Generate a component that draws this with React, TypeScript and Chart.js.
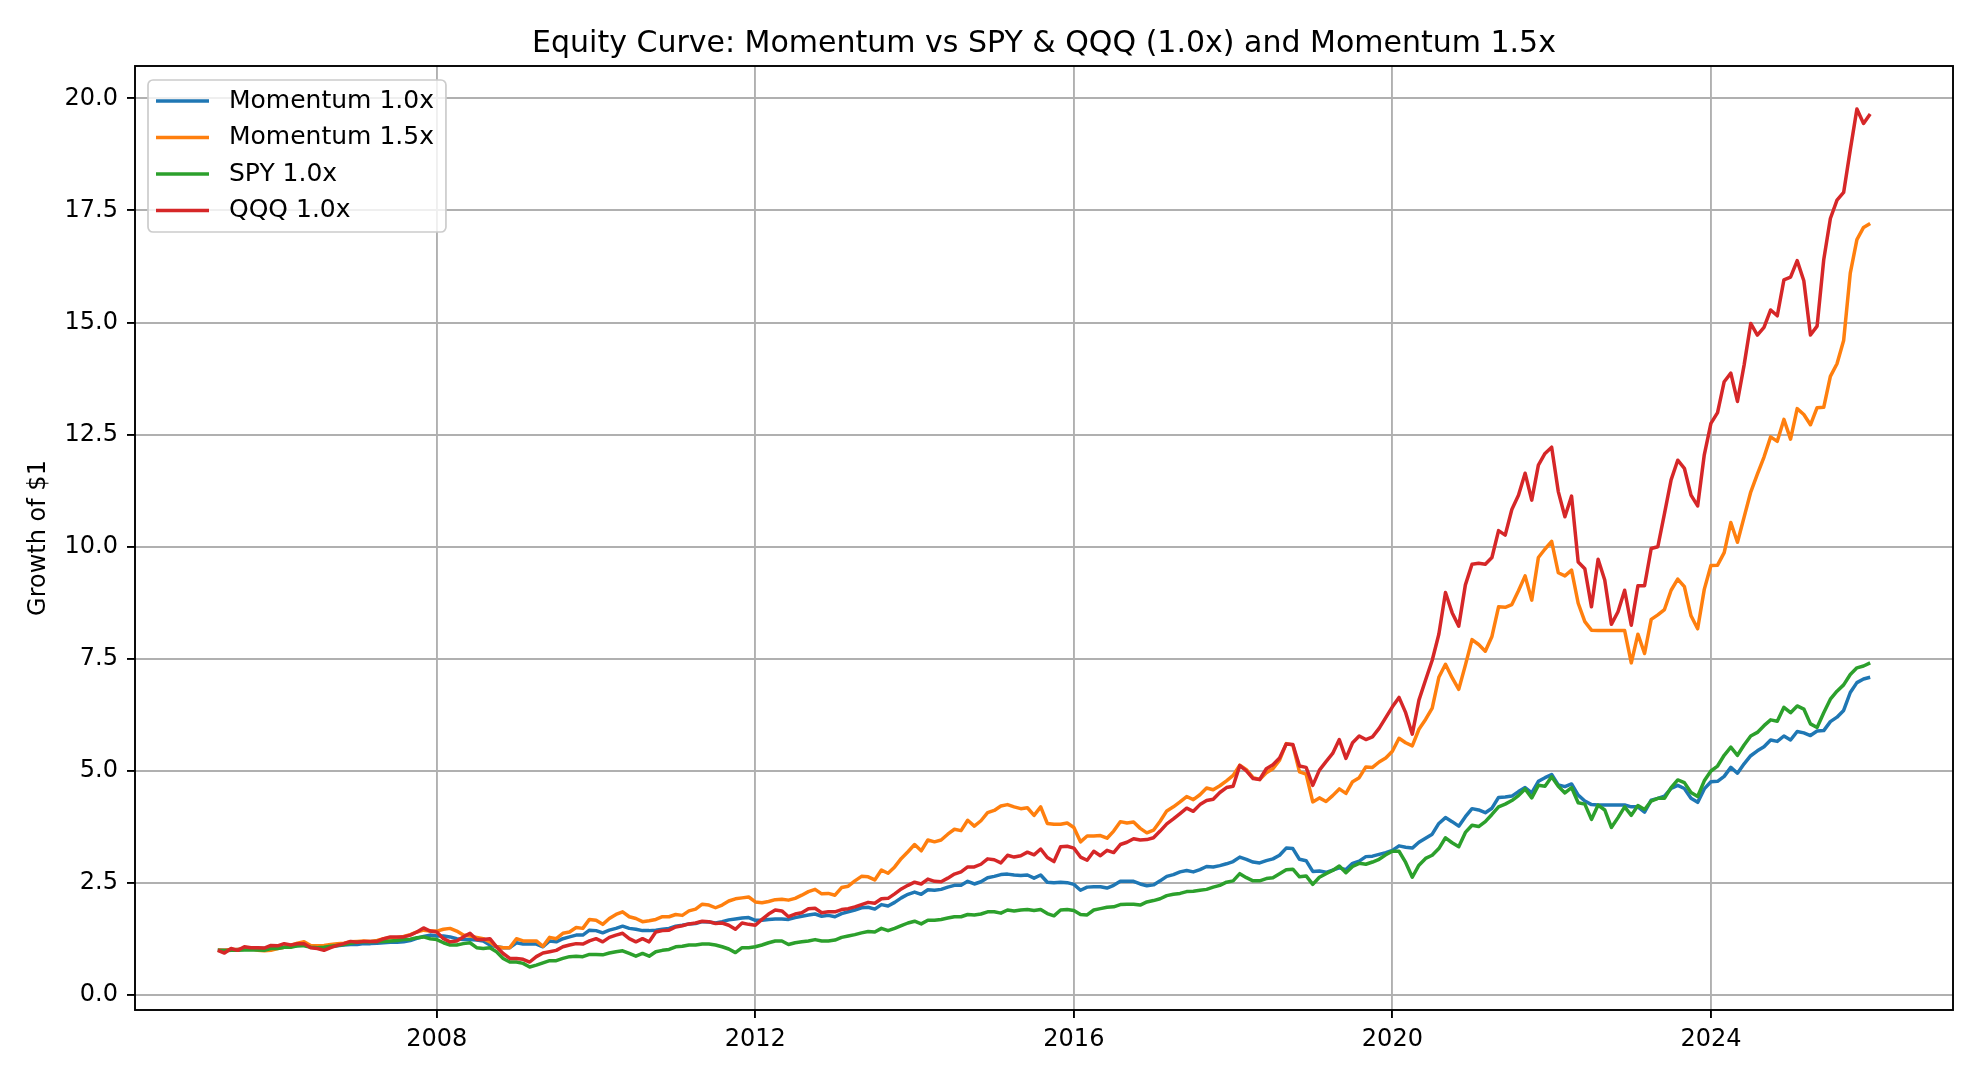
import React, { useEffect, useRef } from 'react';
import { Chart, registerables } from 'chart.js';

Chart.register(...registerables);

const TITLE = 'Equity Curve: Momentum vs SPY & QQQ (1.0x) and Momentum 1.5x';
const Y_LABEL = 'Growth of $1';
const START_YEAR = 2005;
const START_MONTH = 3; // first month-end observation: March 2005
const X_TICKS = [2008, 2012, 2016, 2020, 2024];
const Y_TICKS = [0, 2.5, 5, 7.5, 10, 12.5, 15, 17.5, 20];
const SERIES_NAMES = ['Momentum 1.0x', 'Momentum 1.5x', 'SPY 1.0x', 'QQQ 1.0x'];
const SERIES_COLORS = ['#1f77b4', '#ff7f0e', '#2ca02c', '#d62728'];

const momentum10 = [
  1.00, 1.01, 1.01, 1.02, 1.03, 1.04, 1.04, 1.04, 1.05, 1.06,
  1.07, 1.09, 1.10, 1.12, 1.09, 1.07, 1.08, 1.09, 1.10, 1.12,
  1.13, 1.13, 1.15, 1.15, 1.16, 1.17, 1.18, 1.18, 1.19, 1.22,
  1.27, 1.31,
  1.34, 1.32, 1.32, 1.30, 1.26, 1.24, 1.24, 1.23, 1.21, 1.12,
  1.08, 1.06, 1.06, 1.17, 1.14, 1.14, 1.14, 1.08, 1.21, 1.19,
  1.26, 1.30, 1.34, 1.34, 1.45, 1.44, 1.39, 1.45, 1.49, 1.54,
  1.49, 1.47, 1.44, 1.44, 1.45, 1.47, 1.49, 1.54,
  1.56, 1.59, 1.60, 1.64, 1.63, 1.61, 1.64, 1.68, 1.70, 1.72,
  1.73, 1.67, 1.67, 1.69, 1.70, 1.70, 1.69, 1.73, 1.76, 1.79,
  1.81, 1.76, 1.78, 1.75, 1.82, 1.86, 1.90, 1.95, 1.96, 1.92,
  2.02, 1.99, 2.07, 2.17, 2.25, 2.30, 2.25, 2.35,
  2.34, 2.36, 2.41, 2.45, 2.45, 2.54, 2.48, 2.53, 2.62, 2.65,
  2.69, 2.70, 2.68, 2.67, 2.68, 2.61, 2.68, 2.52, 2.51, 2.52,
  2.51, 2.47, 2.34, 2.41, 2.42, 2.42, 2.39, 2.45, 2.54, 2.54,
  2.54, 2.48, 2.44, 2.46, 2.55, 2.65, 2.69, 2.75,
  2.78, 2.75, 2.80, 2.87, 2.86, 2.89, 2.93, 2.98, 3.08, 3.03,
  2.97, 2.95, 3.00, 3.04, 3.12, 3.28, 3.27, 3.03, 3.00, 2.76,
  2.77, 2.74, 2.79, 2.84, 2.80, 2.94, 2.99, 3.09, 3.10, 3.14,
  3.18, 3.23, 3.33, 3.30, 3.28, 3.41,
  3.50, 3.59, 3.83, 3.96, 3.87, 3.77, 3.98, 4.16, 4.13, 4.07,
  4.17, 4.41, 4.42, 4.44, 4.54, 4.63, 4.51, 4.77, 4.85, 4.92,
  4.69, 4.65, 4.71, 4.46, 4.33, 4.25, 4.24, 4.24, 4.24, 4.24,
  4.24, 4.20, 4.20, 4.08, 4.35,
  4.39, 4.44, 4.61, 4.68, 4.61, 4.39, 4.30, 4.60, 4.76, 4.77,
  4.88, 5.08, 4.95, 5.16, 5.34, 5.45, 5.54, 5.69, 5.66, 5.78,
  5.69, 5.88, 5.85, 5.79, 5.89, 5.90, 6.10, 6.20, 6.35, 6.75,
  6.97, 7.05, 7.09,
];

const momentum15 = [
  1.01, 1.00, 1.02, 1.02, 1.04, 1.04, 1.00, 0.99, 1.00, 1.04,
  1.07, 1.11, 1.16, 1.19, 1.11, 1.10, 1.11, 1.13, 1.15, 1.16,
  1.19, 1.20, 1.21, 1.20, 1.22, 1.26, 1.28, 1.28, 1.31, 1.35,
  1.41, 1.45,
  1.43, 1.43, 1.47, 1.49, 1.43, 1.34, 1.32, 1.29, 1.26, 1.19,
  1.08, 1.06, 1.06, 1.26, 1.21, 1.21, 1.21, 1.09, 1.29, 1.26,
  1.38, 1.41, 1.51, 1.49, 1.69, 1.67, 1.58, 1.71, 1.80, 1.86,
  1.75, 1.71, 1.64, 1.66, 1.69, 1.75, 1.75, 1.80,
  1.78, 1.88, 1.92, 2.03, 2.01, 1.95, 2.01, 2.10, 2.15, 2.17,
  2.19, 2.08, 2.06, 2.09, 2.13, 2.14, 2.12, 2.16, 2.23, 2.31,
  2.36, 2.26, 2.27, 2.23, 2.40, 2.43, 2.55, 2.65, 2.64, 2.57,
  2.79, 2.72, 2.86, 3.05, 3.20, 3.36, 3.22, 3.46,
  3.42, 3.46, 3.59, 3.70, 3.67, 3.90, 3.77, 3.89, 4.07, 4.12,
  4.22, 4.25, 4.20, 4.16, 4.18, 4.01, 4.20, 3.83, 3.81, 3.81,
  3.84, 3.74, 3.42, 3.55, 3.55, 3.56, 3.50, 3.66, 3.87, 3.84,
  3.86, 3.72, 3.62, 3.68, 3.88, 4.11, 4.20, 4.31,
  4.43, 4.36, 4.47, 4.62, 4.58, 4.67, 4.78, 4.90, 5.13, 5.03,
  4.85, 4.81, 4.96, 5.05, 5.24, 5.61, 5.58, 4.98, 4.93, 4.31,
  4.40, 4.32, 4.45, 4.60, 4.50, 4.76, 4.85, 5.09, 5.08, 5.20,
  5.29, 5.44, 5.73, 5.63, 5.56, 5.93,
  6.15, 6.40, 7.09, 7.38, 7.08, 6.82, 7.36, 7.93, 7.82, 7.67,
  8.00, 8.66, 8.65, 8.71, 9.02, 9.35, 8.81, 9.76, 9.95, 10.12,
  9.42, 9.35, 9.48, 8.74, 8.33, 8.14, 8.13, 8.13, 8.13, 8.13,
  8.13, 7.41, 8.05, 7.62, 8.38,
  8.48, 8.60, 9.03, 9.28, 9.11, 8.46, 8.17, 9.05, 9.58, 9.59,
  9.87, 10.54, 10.10, 10.66, 11.22, 11.62, 12.00, 12.45, 12.35, 12.84,
  12.40, 13.08, 12.95, 12.72, 13.10, 13.11, 13.80, 14.08, 14.60, 16.10,
  16.85, 17.12, 17.21,
];

const spy10 = [
  1.00, 0.99, 1.00, 1.00, 1.01, 1.01, 1.01, 1.00, 1.04, 1.04,
  1.07, 1.07, 1.10, 1.10, 1.07, 1.06, 1.07, 1.09, 1.11, 1.13,
  1.16, 1.18, 1.19, 1.19, 1.20, 1.20, 1.21, 1.22, 1.24, 1.25,
  1.28, 1.30,
  1.26, 1.24, 1.17, 1.12, 1.12, 1.15, 1.17, 1.06, 1.04, 1.06,
  0.97, 0.82, 0.74, 0.74, 0.71, 0.63, 0.67, 0.72, 0.77, 0.77,
  0.82, 0.86, 0.87, 0.86, 0.91, 0.91, 0.90, 0.94, 0.97, 0.99,
  0.93, 0.87, 0.93, 0.87, 0.97, 1.00, 1.02, 1.08,
  1.09, 1.12, 1.12, 1.14, 1.14, 1.12, 1.08, 1.03, 0.95, 1.06,
  1.06, 1.08, 1.12, 1.17, 1.21, 1.21, 1.13, 1.17, 1.19, 1.21,
  1.24, 1.21, 1.21, 1.23, 1.29, 1.32, 1.35, 1.39, 1.42, 1.41,
  1.49, 1.44, 1.49, 1.55, 1.61, 1.65, 1.59, 1.67,
  1.67, 1.69, 1.72, 1.75, 1.75, 1.80, 1.79, 1.81, 1.86, 1.86,
  1.83, 1.90, 1.88, 1.90, 1.91, 1.89, 1.91, 1.82, 1.77, 1.90,
  1.91, 1.89, 1.80, 1.79, 1.90, 1.93, 1.96, 1.97, 2.02, 2.03,
  2.03, 2.01, 2.08, 2.11, 2.15, 2.22, 2.25, 2.27,
  2.31, 2.32, 2.34, 2.36, 2.41, 2.45, 2.52, 2.55, 2.71, 2.62,
  2.55, 2.55, 2.60, 2.62, 2.71, 2.80, 2.81, 2.64, 2.66, 2.47,
  2.63, 2.71, 2.78, 2.88, 2.73, 2.87, 2.94, 2.92, 2.97, 3.03,
  3.13, 3.21, 3.21, 2.96, 2.63, 2.90,
  3.05, 3.12, 3.27, 3.51, 3.40, 3.31, 3.63, 3.79, 3.76, 3.87,
  4.03, 4.20, 4.26, 4.34, 4.45, 4.60, 4.40, 4.68, 4.66, 4.87,
  4.66, 4.51, 4.63, 4.29, 4.26, 3.92, 4.24, 4.13, 3.74, 3.96,
  4.20, 4.01, 4.23, 4.14, 4.33,
  4.39, 4.39, 4.63, 4.80, 4.74, 4.52, 4.43, 4.78, 5.00, 5.11,
  5.35, 5.53, 5.35, 5.58, 5.78, 5.86, 6.01, 6.14, 6.11, 6.42,
  6.30, 6.45, 6.38, 6.05, 5.97, 6.30, 6.60, 6.78, 6.92, 7.15,
  7.30, 7.34, 7.41,
];

const qqq10 = [
  1.00, 0.94, 1.04, 1.00, 1.08, 1.06, 1.06, 1.05, 1.11, 1.10,
  1.15, 1.12, 1.15, 1.15, 1.06, 1.04, 1.00, 1.06, 1.11, 1.15,
  1.20, 1.18, 1.20, 1.20, 1.20, 1.26, 1.30, 1.30, 1.30, 1.34,
  1.41, 1.50,
  1.43, 1.41, 1.26, 1.19, 1.21, 1.30, 1.38, 1.24, 1.24, 1.26,
  1.08, 0.93, 0.82, 0.82, 0.80, 0.74, 0.86, 0.94, 0.97, 1.00,
  1.08, 1.12, 1.15, 1.14, 1.21, 1.26, 1.19, 1.29, 1.34, 1.38,
  1.26, 1.19, 1.26, 1.19, 1.41, 1.44, 1.45, 1.52,
  1.55, 1.59, 1.61, 1.65, 1.64, 1.60, 1.61, 1.56, 1.47, 1.61,
  1.58, 1.56, 1.69, 1.81, 1.90, 1.88, 1.75, 1.81, 1.84, 1.93,
  1.94, 1.84, 1.86, 1.86, 1.91, 1.93, 1.97, 2.02, 2.07, 2.05,
  2.15, 2.16, 2.26, 2.37, 2.45, 2.52, 2.48, 2.59,
  2.54, 2.53, 2.61, 2.70, 2.75, 2.86, 2.86, 2.92, 3.04, 3.02,
  2.95, 3.12, 3.08, 3.11, 3.19, 3.13, 3.26, 3.07, 2.98, 3.31,
  3.32, 3.28, 3.08, 3.01, 3.21, 3.11, 3.23, 3.18, 3.36, 3.41,
  3.49, 3.46, 3.47, 3.51, 3.66, 3.82, 3.93, 4.05,
  4.17, 4.10, 4.25, 4.34, 4.37, 4.52, 4.63, 4.66, 5.12, 5.00,
  4.83, 4.81, 5.05, 5.14, 5.29, 5.60, 5.59, 5.11, 5.08, 4.68,
  5.02, 5.21, 5.39, 5.70, 5.28, 5.63, 5.78, 5.70, 5.76, 5.95,
  6.19, 6.43, 6.64, 6.30, 5.82, 6.58,
  7.03, 7.47, 8.05, 8.98, 8.53, 8.23, 9.15, 9.61, 9.63, 9.61,
  9.76, 10.36, 10.26, 10.83, 11.15, 11.64, 11.04, 11.82, 12.08, 12.22,
  11.23, 10.67, 11.13, 9.66, 9.51, 8.66, 9.72, 9.26, 8.27, 8.55,
  9.03, 8.25, 9.13, 9.13, 9.96,
  10.00, 10.74, 11.49, 11.93, 11.75, 11.15, 10.91, 12.05, 12.75, 12.99,
  13.68, 13.87, 13.24, 14.05, 14.98, 14.72, 14.89, 15.28, 15.15, 15.95,
  16.01, 16.38, 15.93, 14.72, 14.92, 16.40, 17.32, 17.73, 17.90, 18.85,
  19.76, 19.44, 19.65,
];

const SERIES_VALUES = [momentum10, momentum15, spy10, qqq10];

const FONT = "'DejaVu Sans', 'Liberation Sans', sans-serif";

const toPoints = (vals: number[]) =>
  vals.map((y, i) => ({ x: START_YEAR + (START_MONTH + i) / 12, y }));

const framePlugin = {
  id: 'mplFrame',
  afterDatasetsDraw(chart: any) {
    const { ctx, chartArea: a } = chart;
    ctx.save();
    ctx.strokeStyle = '#000';
    ctx.lineWidth = 1.9;
    ctx.strokeRect(a.left, a.top, a.right - a.left, a.bottom - a.top);
    ctx.restore();
  },
};

const titlePlugin = {
  id: 'mplTitle',
  afterDraw(chart: any) {
    const { ctx, chartArea: a } = chart;
    ctx.save();
    ctx.font = `30px ${FONT}`;
    ctx.fillStyle = '#000';
    ctx.textAlign = 'center';
    ctx.textBaseline = 'middle';
    ctx.fillText(TITLE, (a.left + a.right) / 2, 44);
    ctx.restore();
  },
};

const legendPlugin = {
  id: 'mplLegend',
  afterDraw(chart: any) {
    const { ctx, chartArea: a } = chart;
    ctx.save();
    ctx.font = `25px ${FONT}`;
    const left = a.left + 13;
    const top = a.top + 14;
    const textW = Math.max(...SERIES_NAMES.map((n) => ctx.measureText(n).width));
    const w = 81 + textW + 12;
    const h = 152;
    const r = 5;
    ctx.beginPath();
    ctx.moveTo(left + r, top);
    ctx.lineTo(left + w - r, top);
    ctx.arcTo(left + w, top, left + w, top + r, r);
    ctx.lineTo(left + w, top + h - r);
    ctx.arcTo(left + w, top + h, left + w - r, top + h, r);
    ctx.lineTo(left + r, top + h);
    ctx.arcTo(left, top + h, left, top + h - r, r);
    ctx.lineTo(left, top + r);
    ctx.arcTo(left, top, left + r, top, r);
    ctx.closePath();
    ctx.fillStyle = 'rgba(255,255,255,0.8)';
    ctx.fill();
    ctx.strokeStyle = '#cccccc';
    ctx.lineWidth = 1.7;
    ctx.stroke();
    SERIES_NAMES.forEach((name, k) => {
      const y = top + 21 + k * 36.5;
      ctx.strokeStyle = SERIES_COLORS[k];
      ctx.lineWidth = 3.5;
      ctx.beginPath();
      ctx.moveTo(left + 8, y);
      ctx.lineTo(left + 61, y);
      ctx.stroke();
      ctx.fillStyle = '#000';
      ctx.textAlign = 'left';
      ctx.textBaseline = 'middle';
      ctx.fillText(name, left + 81, y);
    });
    ctx.restore();
  },
};

export default function App() {
  const ref = useRef<HTMLCanvasElement>(null);

  useEffect(() => {
    document.body.style.margin = '0';
    Chart.defaults.font.family = FONT;
    const gridOpts = {
      color: '#b0b0b0',
      lineWidth: 1.9,
      drawTicks: true,
      tickLength: 8,
      tickColor: '#000',
      tickWidth: 1.9,
    };
    const drawOrder = [3, 2, 1, 0];
    const chart = new Chart(ref.current as HTMLCanvasElement, {
      type: 'line',
      data: {
        datasets: SERIES_VALUES.map((vals, k) => ({
          label: SERIES_NAMES[k],
          data: toPoints(vals),
          borderColor: SERIES_COLORS[k],
          backgroundColor: SERIES_COLORS[k],
          borderWidth: 3.5,
          pointRadius: 0,
          pointHoverRadius: 0,
          tension: 0,
          fill: false,
          borderJoinStyle: 'round',
          order: drawOrder[k],
        })),
      },
      options: {
        responsive: false,
        animation: false,
        devicePixelRatio: 1,
        events: [],
        layout: { padding: { left: 0, right: 27, top: 66, bottom: 0 } },
        plugins: {
          legend: { display: false },
          title: { display: false },
          tooltip: { enabled: false },
        },
        scales: {
          x: {
            type: 'linear',
            min: 2004.21,
            max: 2027.04,
            afterBuildTicks: (s: any) => {
              s.ticks = X_TICKS.map((v) => ({ value: v }));
            },
            afterFit: (s: any) => {
              s.height = 70;
            },
            ticks: {
              callback: (v: any) => String(v),
              font: { size: 24 },
              color: '#000',
              padding: 7,
              maxRotation: 0,
              autoSkip: false,
            },
            grid: gridOpts,
            border: { display: false },
          },
          y: {
            type: 'linear',
            min: -0.33,
            max: 20.72,
            afterBuildTicks: (s: any) => {
              s.ticks = Y_TICKS.map((v) => ({ value: v }));
            },
            afterFit: (s: any) => {
              s.width = 135;
            },
            ticks: {
              callback: (v: any) => Number(v).toFixed(1),
              font: { size: 24 },
              color: '#000',
              padding: 9,
              autoSkip: false,
            },
            grid: gridOpts,
            border: { display: false },
            title: {
              display: true,
              text: Y_LABEL,
              font: { size: 24 },
              color: '#000',
              padding: { top: 24, bottom: 0 },
            },
          },
        },
      },
      plugins: [framePlugin, titlePlugin, legendPlugin],
    } as any);
    return () => chart.destroy();
  }, []);

  return (
    <div style={{ position: 'absolute', left: 0, top: 0, width: 1980, height: 1080, background: '#fff' }}>
      <canvas ref={ref} width={1980} height={1080} style={{ display: 'block', width: '1980px', height: '1080px' }} />
    </div>
  );
}
